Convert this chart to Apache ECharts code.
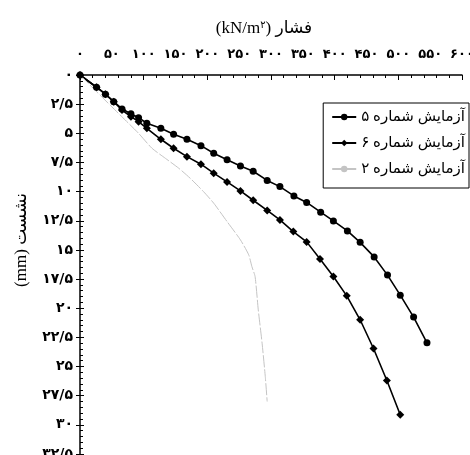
<!DOCTYPE html>
<html>
<head>
<meta charset="utf-8">
<script src="https://cdn.jsdelivr.net/npm/echarts@6/dist/echarts.min.js"></script>
<style>
  html, body { margin: 0; padding: 0; background: #fff; }
  #chart { width: 470px; height: 455px; }
</style>
</head>
<body>
<div id="chart"></div>
<script>
// محور فشار (kN/m²) و نشست (mm)
const xTicks = [0, 600, 50]
const yTicks = [0, 32.5, 2.5]

// آزمایش شماره ۵
const test5X = [0, 26, 40, 53, 66, 80, 92, 105, 127, 147, 168, 190, 210, 231, 252, 272, 294, 314, 336, 356, 378, 398, 420, 440, 462, 483, 503, 524, 545]
const test5Y = [0, 1.05, 1.65, 2.29, 2.91, 3.32, 3.66, 4.14, 4.57, 5.08, 5.51, 6.06, 6.71, 7.26, 7.8, 8.25, 9.04, 9.57, 10.37, 10.93, 11.76, 12.51, 13.37, 14.35, 15.6, 17.16, 18.88, 20.76, 22.97]

// آزمایش شماره ۶
const test6X = [0, 26, 40, 53, 66, 80, 92, 105, 127, 147, 168, 190, 210, 231, 252, 272, 294, 314, 335, 356, 377, 398, 419, 440, 461, 482, 503]
const test6Y = [0, 1.05, 1.65, 2.29, 3.0, 3.57, 4.0, 4.57, 5.51, 6.28, 7.0, 7.65, 8.42, 9.17, 9.94, 10.74, 11.61, 12.43, 13.43, 14.31, 15.77, 17.28, 18.94, 20.99, 23.45, 26.2, 29.14]

// آزمایش شماره ۲
const test2X = [0, 26, 50, 71, 92, 113, 134, 155, 173, 194, 210, 231, 252, 265, 270, 275, 280, 286, 291, 294]
const test2Y = [0, 1.43, 2.73, 3.86, 5.0, 6.28, 7.14, 7.99, 8.85, 10.0, 10.99, 12.57, 14.14, 15.42, 16.43, 17.28, 20.14, 22.99, 25.85, 28.0]

const seriesNames = ['آزمایش شماره ۵', 'آزمایش شماره ۶', 'آزمایش شماره ۲']

const pair = (xs, ys) => xs.map((x, i) => [x, ys[i]])
// اعداد فارسی با ممیز «/»
const fa = v => String(v).replace('.', '/').replace(/\d/g, d => '۰۱۲۳۴۵۶۷۸۹'[d])

const numFont = '"DejaVu Sans", sans-serif'
const textFont = '"Liberation Serif", "DejaVu Sans", serif'

const chart = echarts.init(document.getElementById('chart'))

const option = {
  backgroundColor: '#fff',
  animation: false,
  grid: { left: 80, right: 8, top: 75, bottom: 1, outerBoundsMode: 'none' },
  xAxis: [
    {
      type: 'value', position: 'top',
      min: xTicks[0], max: xTicks[1], interval: xTicks[2],
      axisLine: { show: true, lineStyle: { color: '#000', width: 1.5 } },
      axisTick: { show: false },
      splitLine: { show: false },
      axisLabel: { margin: 14, formatter: fa, color: '#000', fontSize: 13, fontWeight: 'bold', fontFamily: numFont }
    },
    {
      type: 'value', position: 'top',
      min: xTicks[0], max: xTicks[1], interval: 100,
      axisLine: { show: false },
      axisTick: { show: true, inside: true, length: 5, lineStyle: { color: '#000' } },
      minorTick: { show: true, splitNumber: 5, length: 3, lineStyle: { color: '#000' } },
      axisLabel: { show: false },
      splitLine: { show: false }
    }
  ],
  yAxis: [
    {
      type: 'value', inverse: true,
      min: yTicks[0], max: yTicks[1], interval: yTicks[2],
      axisLine: { show: true, lineStyle: { color: '#000', width: 1.5 } },
      axisTick: { show: true, inside: false, length: 4, lineStyle: { color: '#000' } },
      splitLine: { show: false },
      axisLabel: { margin: 7, formatter: fa, color: '#000', fontSize: 14, fontWeight: 'bold', fontFamily: numFont }
    },
    {
      type: 'value', inverse: true, position: 'left',
      min: yTicks[0], max: yTicks[1], interval: yTicks[2],
      axisLine: { show: false },
      axisTick: { show: true, inside: true, length: 4, lineStyle: { color: '#000' } },
      minorTick: { show: true, splitNumber: 5, length: 3, lineStyle: { color: '#000' } },
      axisLabel: { show: false },
      splitLine: { show: false }
    }
  ],
  legend: {
    orient: 'vertical',
    right: 1, top: 103,
    align: 'left',
    itemWidth: 24, itemHeight: 8, itemGap: 8,
    padding: [5, 4, 10, 8],
    borderColor: '#000', borderWidth: 1, borderRadius: 0,
    textStyle: { fontSize: 15, color: '#000', fontFamily: textFont, lineHeight: 18 },
    data: seriesNames
  },
  graphic: [
    {
      type: 'text', x: 264, y: 29,
      style: {
        text: '{a|(kN/m}{s|۲}{a|) فشار}',
        align: 'center', verticalAlign: 'middle',
        rich: {
          a: { fontSize: 17, fontFamily: textFont, fill: '#000' },
          s: { fontSize: 10, fontFamily: textFont, fill: '#000', padding: [0, 0, 8, 0] }
        }
      }
    },
    {
      type: 'text', x: 22, y: 240, rotation: Math.PI / 2,
      style: {
        text: '(mm) نشست',
        align: 'center', verticalAlign: 'middle',
        fontSize: 17, fontFamily: textFont, fill: '#000'
      }
    }
  ],
  series: [
    {
      name: seriesNames[0], type: 'line',
      data: pair(test5X, test5Y),
      symbol: 'circle', symbolSize: 7,
      lineStyle: { color: '#000', width: 1.6 },
      itemStyle: { color: '#000' }
    },
    {
      name: seriesNames[1], type: 'line',
      data: pair(test6X, test6Y),
      symbol: 'diamond', symbolSize: 8,
      lineStyle: { color: '#000', width: 1.6 },
      itemStyle: { color: '#000' }
    },
    {
      name: seriesNames[2], type: 'line',
      data: pair(test2X, test2Y),
      symbol: 'none', smooth: 0.2,
      lineStyle: { color: '#c4c4c4', width: 1, type: [12, 2] },
      itemStyle: { color: '#c4c4c4' }
    }
  ]
}

chart.setOption(option)
</script>
</body>
</html>
